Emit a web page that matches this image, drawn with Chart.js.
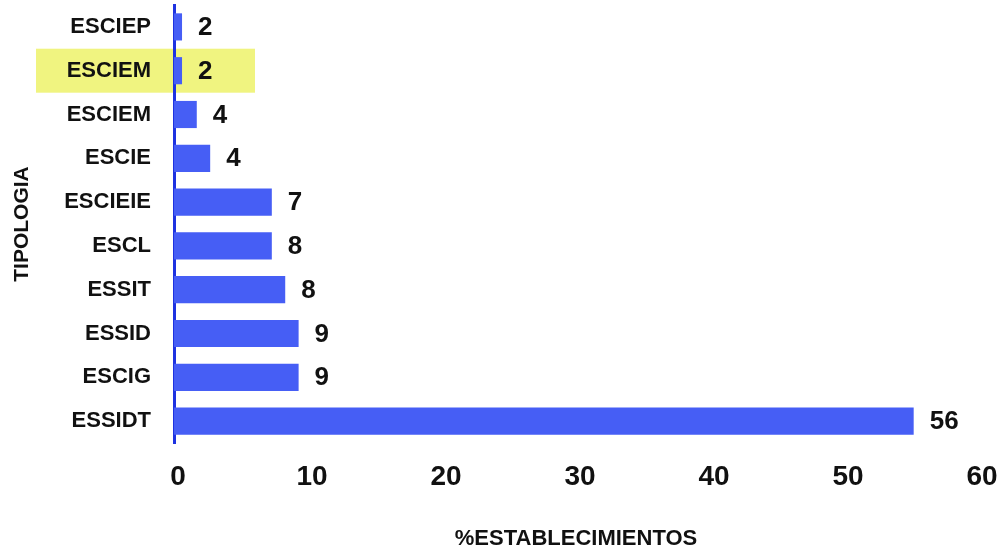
<!DOCTYPE html>
<html>
<head>
<meta charset="utf-8">
<script src="https://cdn.jsdelivr.net/npm/chart.js@4/dist/chart.umd.min.js"></script>
<style>
  html, body { margin: 0; padding: 0; background: #fff; }
  #wrap { width: 997px; height: 552px; }
</style>
</head>
<body>
<div id="wrap"><canvas id="myChart"></canvas></div>
<script>
  // data
  const categories = ['ESCIEP', 'ESCIEM', 'ESCIEM', 'ESCIE', 'ESCIEIE', 'ESCL', 'ESSIT', 'ESSID', 'ESCIG', 'ESSIDT']
  const barValues = [0.6, 0.6, 1.7, 2.7, 7.3, 7.3, 8.3, 9.3, 9.3, 55.2]
  const valueLabels = ['2', '2', '4', '4', '7', '8', '8', '9', '9', '56']
  const xTicks = [0, 10, 20, 30, 40, 50, 60]
  const highlighted = 1

  const fontFam = '"Liberation Sans", Arial, sans-serif'

  // yellow box behind the highlighted row (drawn before the axes)
  const highlightBox = {
    id: 'highlightBox',
    beforeDraw(chart) {
      const c = chart.ctx
      const y = chart.scales.y.getPixelForValue(highlighted)
      c.save()
      c.fillStyle = 'rgb(240,244,128)'
      c.fillRect(36, y - 22, 219, 44)
      c.restore()
    }
  }

  // numbers at the end of the bars
  const barNumbers = {
    id: 'barNumbers',
    afterDatasetsDraw(chart) {
      const c = chart.ctx
      const bars = chart.getDatasetMeta(0).data
      c.save()
      c.font = 'bold 26px ' + fontFam
      c.fillStyle = '#111'
      c.textBaseline = 'middle'
      c.textAlign = 'left'
      for (let i = 0; i < bars.length; i++) {
        c.fillText(valueLabels[i], bars[i].x + 16, bars[i].y + 1)
      }
      c.restore()
    }
  }

  const ctx = document.getElementById('myChart')

  new Chart(ctx, {
    type: 'bar',
    data: {
      labels: categories,
      datasets: [{
        data: barValues,
        backgroundColor: 'rgb(70,94,245)',
        barPercentage: 0.62,
        categoryPercentage: 1
      }]
    },
    options: {
      indexAxis: 'y',
      responsive: true,
      maintainAspectRatio: false,
      animation: false,
      layout: { padding: { top: 5, right: 19, left: 0, bottom: 0 } },
      scales: {
        x: {
          min: 0,
          max: 60,
          afterBuildTicks: (scale) => { scale.ticks = xTicks.map(v => ({ value: v })) },
          afterFit: (scale) => {
            scale.height = 109
            scale.paddingLeft = 0
            scale.paddingRight = 0
          },
          grid: { display: false },
          border: { display: false },
          ticks: {
            color: '#111',
            padding: 9,
            labelOffset: 4,
            maxRotation: 0,
            font: { family: fontFam, size: 28, weight: 'bold' }
          },
          title: {
            display: true,
            text: '%ESTABLECIMIENTOS',
            color: '#111',
            padding: { top: 0, bottom: 0 },
            font: { family: fontFam, size: 22, weight: 'bold' }
          }
        },
        y: {
          afterFit: (scale) => {
            scale.width = 174
            scale.paddingTop = 0
            scale.paddingBottom = 0
          },
          grid: { display: false },
          border: { display: true, color: 'rgb(30,50,225)', width: 3 },
          ticks: {
            color: '#111',
            padding: 15,
            font: { family: fontFam, size: 22, weight: 'bold' }
          },
          title: {
            display: true,
            text: 'TIPOLOGIA',
            color: '#111',
            padding: { top: 10, bottom: 0 },
            font: { family: fontFam, size: 21, weight: 'bold' }
          }
        }
      },
      plugins: {
        legend: { display: false },
        tooltip: { enabled: false }
      }
    },
    plugins: [highlightBox, barNumbers]
  })
</script>
</body>
</html>
